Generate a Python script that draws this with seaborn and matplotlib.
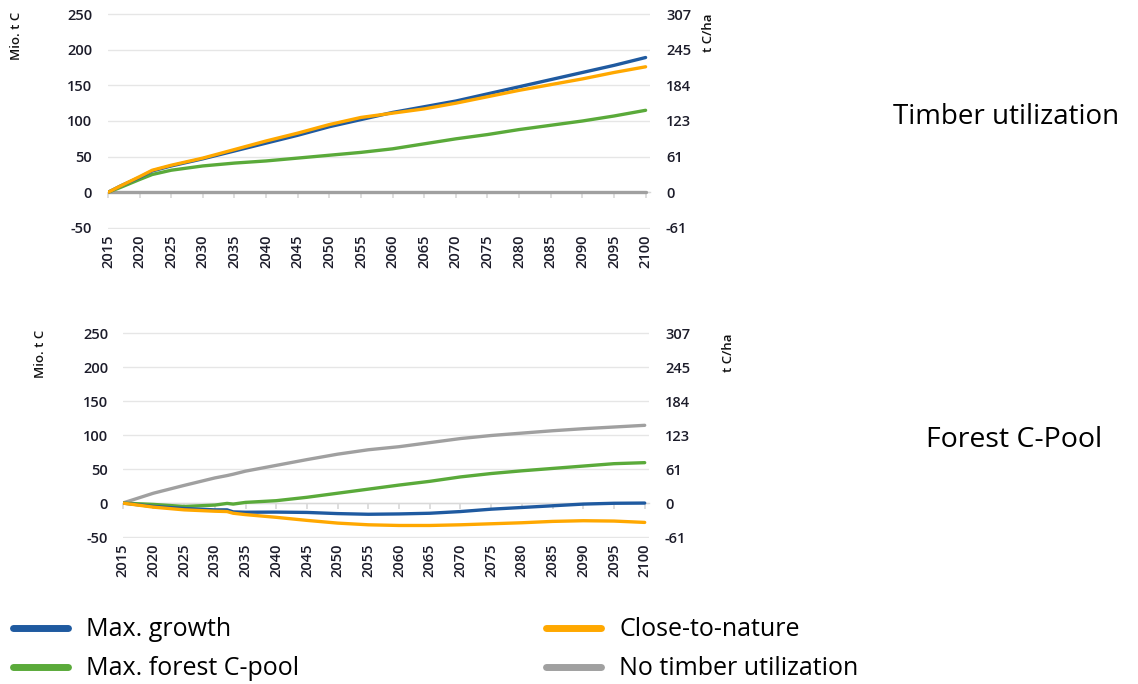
import numpy as np
import pandas as pd
import seaborn as sns
import matplotlib.pyplot as plt
from matplotlib.lines import Line2D

# --- data ---
years_top = [2015, 2017, 2020, 2022, 2025, 2030, 2035, 2040, 2045, 2050, 2055,
             2060, 2065, 2070, 2075, 2080, 2085, 2090, 2095, 2100]
top_max_growth = [0, 9, 21, 30, 37, 47, 58, 69, 80, 92, 102,
                  112, 120, 128, 138, 148, 158, 168, 178, 189]
top_close_nature = [0, 9, 22, 31, 38, 48, 60, 72, 83, 95, 105,
                    111, 117, 125, 134, 143, 151, 159, 168, 176]
top_max_cpool = [0, 7, 18, 25, 31, 37, 41, 44, 48, 52, 56,
                 61, 68, 75, 81, 88, 94, 100, 107, 115]
top_no_timber = [0] * len(years_top)

years_bot = [2015, 2020, 2025, 2030, 2032, 2033, 2035, 2040, 2045, 2050, 2055,
             2060, 2065, 2070, 2075, 2080, 2085, 2090, 2095, 2100]
bot_max_growth = [0, -5, -8, -10, -10, -13, -13.5, -13.3, -13.8, -15.5, -16.5,
                  -16, -15, -12.5, -9, -6.5, -4, -1.5, -0.3, 0]
bot_close_nature = [0, -6, -10, -12, -12.5, -15, -17, -21, -25.5, -29.5, -32,
                    -33, -33, -32, -30.5, -29, -27, -26, -26.5, -28.5]
bot_max_cpool = [0, -2, -5, -3, -0.5, -1.5, 1, 3.5, 8.5, 14.5, 20.5,
                 26.5, 32, 38.5, 43.5, 47.5, 51, 54.5, 58, 59.5]
bot_no_timber = [0, 14.5, 26, 37, 40.5, 42.5, 47, 55.5, 64, 72, 78.5,
                 83, 89, 95, 99.5, 103, 106.5, 109.5, 112, 114.5]

scenarios = ["Max. growth", "Max. forest C-pool", "Close-to-nature", "No timber utilization"]
colors = ["#1f5aa0", "#5aaa3a", "#ffa800", "#a0a0a0"]
y_ticks = [-50, 0, 50, 100, 150, 200, 250]
ha_ticks = [-61, 0, 61, 123, 184, 245, 307]
ha_factor = 307 / 250
x_ticks = list(range(2015, 2101, 5))


def long_table(years, series):
    rows = []
    for name, vals in series.items():
        for yr, v in zip(years, vals):
            rows.append({"year": yr, "value": v, "scenario": name})
    return pd.DataFrame(rows)


df_top = long_table(years_top, {
    "No timber utilization": top_no_timber,
    "Max. forest C-pool": top_max_cpool,
    "Max. growth": top_max_growth,
    "Close-to-nature": top_close_nature,
})
df_bot = long_table(years_bot, {
    "No timber utilization": bot_no_timber,
    "Max. forest C-pool": bot_max_cpool,
    "Max. growth": bot_max_growth,
    "Close-to-nature": bot_close_nature,
})

sns.set_theme(style="white")
plt.rcParams["font.family"] = ["Open Sans", "DejaVu Sans"]
plt.rcParams["axes.unicode_minus"] = False
palette = dict(zip(scenarios, colors))
tick_color = "#1c1c2a"
tick_font = dict(size=10.5, weight="semibold")

fig = plt.figure(figsize=(11.38, 6.84), dpi=100)
ax_top = fig.add_axes([0.0949, 0.6646, 0.4763, 0.317])
ax_bot = fig.add_axes([0.1078, 0.2129, 0.4625, 0.3018])

for ax, df, pad in [(ax_top, df_top, 11.5), (ax_bot, df_bot, 10.5)]:
    sns.lineplot(data=df, x="year", y="value", hue="scenario", palette=palette,
                 linewidth=2.4, legend=False, ax=ax, estimator=None, zorder=3)
    ax.set_xlim(2015, 2100.7)
    ax.set_ylim(-52, 252)
    ax.set_yticks(y_ticks)
    ax.set_yticklabels([str(t) for t in y_ticks], fontdict=tick_font)
    ax.tick_params(axis="y", length=0, pad=pad, labelcolor=tick_color)
    ax.grid(axis="y", color="#e6e6e6", linewidth=1)
    ax.set_axisbelow(True)
    for s in ["top", "right", "left"]:
        ax.spines[s].set_visible(False)
    # x axis line at zero with tick marks, labels at the bottom
    ax.spines["bottom"].set_position(("data", 0))
    ax.spines["bottom"].set_color("#d9d9d9")
    ax.spines["bottom"].set_linewidth(1)
    ax.spines["bottom"].set_zorder(1)
    ax.set_xticks(x_ticks)
    ax.tick_params(axis="x", direction="out", length=4, color="#d9d9d9",
                   labelbottom=False, bottom=True)
    ax.set_xlabel("")
    ax.set_ylabel("")
    sec = ax.secondary_xaxis(0)
    sec.set_xticks(x_ticks)
    sec.set_xticklabels([str(t) for t in x_ticks], fontdict=tick_font, rotation=90)
    sec.tick_params(length=0, pad=4, labelcolor=tick_color)
    sec.spines["bottom"].set_visible(False)

    twin = ax.twinx()
    twin.set_ylim(-52 * ha_factor, 252 * ha_factor)
    twin.set_yticks([t * ha_factor for t in y_ticks])
    twin.set_yticklabels([str(t) for t in ha_ticks], fontdict=tick_font)
    twin.tick_params(axis="y", length=0, pad=11.5, labelcolor=tick_color)
    for s in twin.spines.values():
        s.set_visible(False)
    twin.grid(False)

# axis titles sitting at the top of each axis
lab = dict(rotation=90, ha="center", va="top", fontsize=9.5, weight="semibold", color="#111111")
fig.text(17 / 1138, 1 - 12 / 684, "Mio. t C", **lab)
fig.text(40 / 1138, 1 - 330 / 684, "Mio. t C", **lab)
fig.text(709 / 1138, 1 - 14 / 684, "t C/ha", **lab)
fig.text(728 / 1138, 1 - 334 / 684, "t C/ha", **lab)

fig.text(1006 / 1138, 1 - 117 / 684, "Timber utilization", ha="center", va="center",
         fontsize=20, color="black")
fig.text(1014 / 1138, 1 - 440 / 684, "Forest C-Pool", ha="center", va="center",
         fontsize=20.5, color="black")

handles = [Line2D([0], [0], color=palette[s], linewidth=5, solid_capstyle="round")
           for s in scenarios]
leg = fig.legend(handles, scenarios, ncol=2, loc="upper left",
                 bbox_to_anchor=(0.0, 1 - 605 / 684), frameon=False, fontsize=18,
                 handlelength=2.2, handletextpad=0.72, columnspacing=9.9,
                 labelspacing=0.55, borderaxespad=0.1, borderpad=0.4)
for t in leg.get_texts():
    t.set_color("black")

fig.savefig("out.png", dpi=100)
